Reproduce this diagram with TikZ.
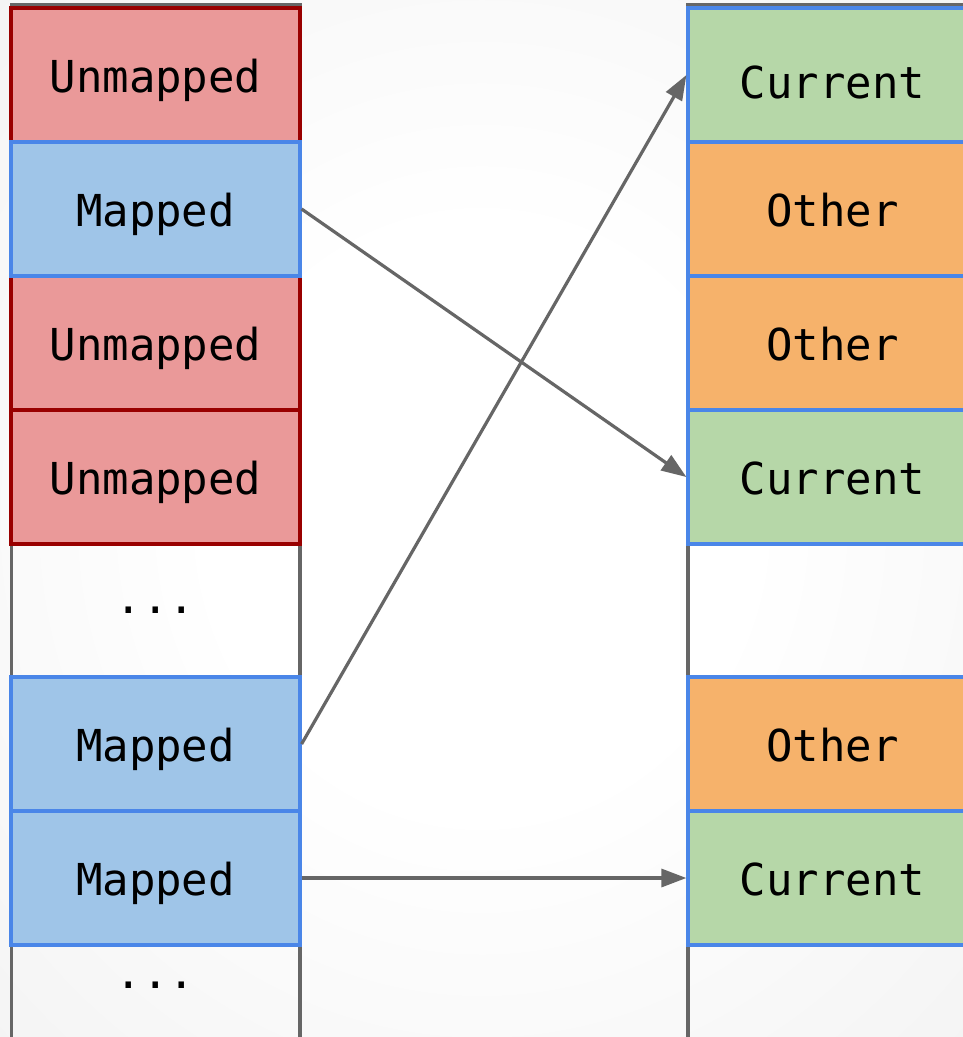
\documentclass[tikz,border=0pt]{standalone}
\usepackage{fontspec}
\setmonofont{DejaVu Sans Mono}
\usetikzlibrary{arrows.meta}
\definecolor{bggray}{HTML}{E2E2E2}
\definecolor{unfill}{HTML}{EA9999}
\definecolor{undraw}{HTML}{990000}
\definecolor{mapfill}{HTML}{9FC5E8}
\definecolor{blueline}{HTML}{4A86E8}
\definecolor{curfill}{HTML}{B6D7A8}
\definecolor{othfill}{HTML}{F6B26B}
\definecolor{linegray}{HTML}{666666}
\pgfdeclareradialshading{bgshade}{\pgfpoint{0bp}{0bp}}{color(0bp)=(white); color(14bp)=(white); color(72bp)=(bggray)}
\begin{document}
\begin{tikzpicture}[x=1pt,y=-1pt,
  txt/.style={font=\ttfamily\fontsize{44}{44}\selectfont, text=black},
  cell/.style={txt, draw, line width=3.2pt, minimum width=289pt, minimum height=134pt,
    inner sep=0pt, text height=35pt, text depth=0pt},
  unmapped/.style={cell, fill=unfill, draw=undraw},
  mapped/.style={cell, fill=mapfill, draw=blueline},
  current/.style={cell, fill=curfill, draw=blueline},
  other/.style={cell, fill=othfill, draw=blueline},
  dots/.style={txt, anchor=base, inner sep=0pt},
  frame/.style={draw=linegray, line width=3.2pt},
  conn/.style={draw=linegray, line width=3.2pt, -{Triangle[length=25pt,width=18pt]}}]
\useasboundingbox (0,0) rectangle (963,1037);
\clip (0,0) rectangle (963,1037);
\shade[shading=bgshade] (0,0) rectangle (963,1037);
% containers
\draw[frame] (11.5,1045) -- (11.5,4.5) -- (300,4.5) -- (300,1045);
\draw[frame] (688,1045) -- (688,4.5) -- (980,4.5) -- (980,1045);
% left column
\node[unmapped] (u1) at (155.5,75) {Unmapped};
\node[unmapped] (u3) at (155.5,343) {Unmapped};
\node[unmapped] (u4) at (155.5,477) {Unmapped};
\node[mapped] (m2) at (155.5,209) {Mapped};
\node[mapped] (m6) at (155.5,744) {Mapped};
\node[mapped] (m7) at (155.5,878) {Mapped};
\node[dots] (d1) at (155.5,613) {...};
\node[dots] (d2) at (155.5,988) {...};
% right column
\node[current, text height=47pt] (c1) at (832.5,75) {Current};
\node[other] (o2) at (832.5,209) {Other};
\node[other] (o3) at (832.5,343) {Other};
\node[current] (c4) at (832.5,477) {Current};
\node[other] (o6) at (832.5,744) {Other};
\node[current] (c7) at (832.5,878) {Current};
% connectors
\draw[conn] (m2.east) -- (c4.west);
\draw[conn] (m6.east) -- (c1.west);
\draw[conn] (m7.east) -- (c7.west);
\end{tikzpicture}
\end{document}
